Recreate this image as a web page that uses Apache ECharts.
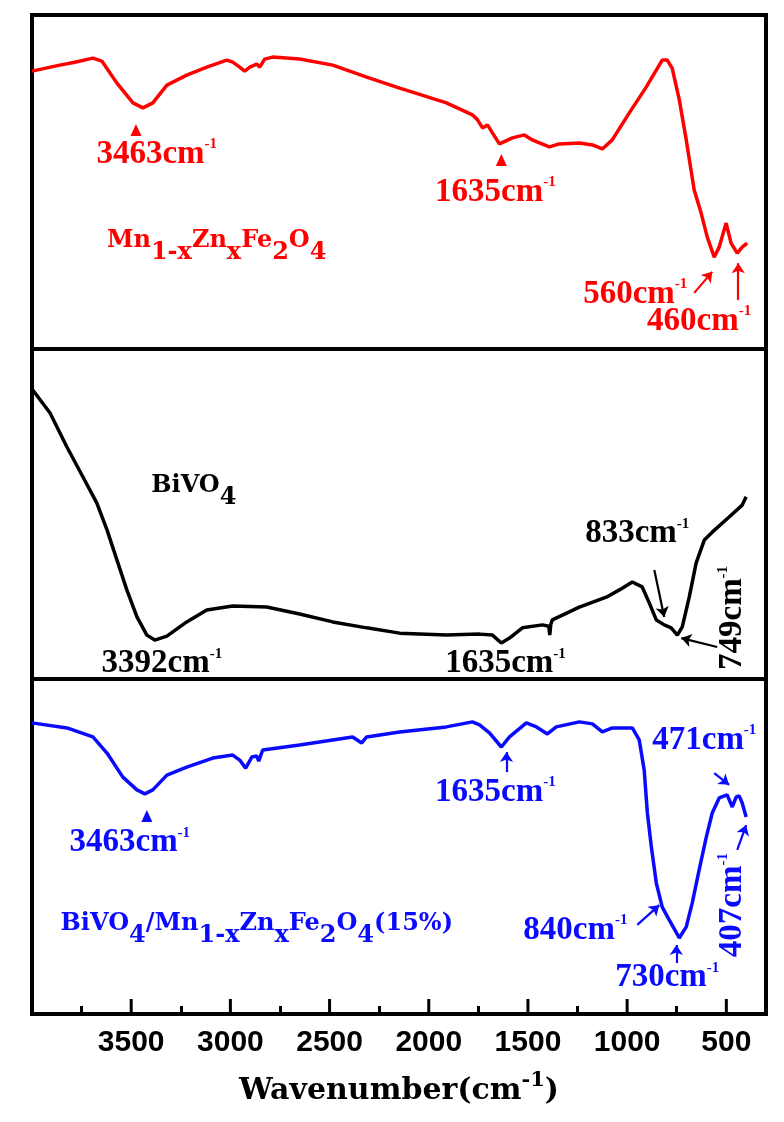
<!DOCTYPE html>
<html>
<head>
<meta charset="utf-8">
<script src="https://cdn.jsdelivr.net/npm/echarts@6/dist/echarts.min.js"></script>
<style>
  html, body { margin: 0; padding: 0; background: #fff; }
  #main { width: 784px; height: 1122px; }
</style>
</head>
<body>
<div id="main"></div>
<script>
// FTIR spectra (transmittance in arbitrary units, 0-100 per panel)
var redWave = [4000, 3860, 3790, 3693, 3648, 3572, 3491, 3441, 3391, 3320, 3220, 3119, 3018, 2988, 2953, 2928, 2902, 2867, 2852, 2827, 2787, 2651, 2484, 2313, 2147, 2082, 1911, 1780, 1754, 1729, 1704, 1679, 1644, 1578, 1518, 1478, 1442, 1392, 1342, 1241, 1175, 1125, 1075, 989, 904, 823, 798, 773, 737, 702, 662, 627, 596, 561, 536, 501, 476, 445, 420, 395];
var redT = [83.2, 85.0, 85.8, 87.1, 86.2, 79.6, 73.7, 72.2, 73.7, 79.0, 82.0, 84.4, 86.5, 85.9, 84.4, 83.2, 84.4, 85.3, 84.4, 86.8, 87.4, 86.8, 85.0, 81.4, 78.1, 76.9, 73.7, 70.1, 68.6, 66.2, 67.1, 64.7, 61.4, 63.2, 64.1, 62.6, 61.7, 60.5, 61.4, 61.7, 61.1, 59.9, 62.6, 70.7, 78.4, 86.5, 86.5, 84.1, 74.6, 62.6, 47.6, 40.7, 33.5, 27.5, 30.5, 37.7, 31.7, 28.7, 30.5, 31.7];

var blackWave = [4000, 3909, 3824, 3743, 3673, 3622, 3572, 3522, 3471, 3421, 3381, 3320, 3220, 3119, 2988, 2817, 2651, 2484, 2313, 2147, 1911, 1744, 1679, 1634, 1593, 1528, 1427, 1395, 1390, 1385, 1377, 1241, 1105, 1039, 974, 924, 888, 853, 813, 778, 747, 722, 687, 652, 611, 571, 486, 420, 400];
var blackT = [87.9, 80.6, 70.3, 61.2, 53.3, 45.2, 36.1, 27.0, 18.8, 13.3, 11.8, 13.0, 17.3, 20.9, 22.1, 21.8, 19.7, 17.3, 15.5, 13.9, 13.3, 13.6, 13.3, 10.9, 12.4, 15.5, 16.4, 16.0, 13.3, 16.5, 17.9, 21.8, 24.8, 27.0, 29.4, 27.9, 23.0, 17.9, 16.4, 15.5, 13.3, 15.8, 24.8, 35.2, 42.1, 44.5, 49.1, 52.7, 55.2];

var blueWave = [4000, 3824, 3693, 3622, 3542, 3471, 3431, 3391, 3320, 3220, 3089, 2988, 2953, 2923, 2892, 2867, 2857, 2837, 2651, 2484, 2384, 2338, 2313, 2147, 1911, 1780, 1744, 1694, 1634, 1593, 1508, 1457, 1402, 1357, 1241, 1175, 1125, 1075, 974, 939, 914, 898, 878, 853, 823, 788, 737, 702, 672, 637, 601, 571, 536, 496, 470, 450, 435, 420, 400];
var blueT = [86.9, 85.4, 82.7, 77.9, 70.7, 66.9, 65.7, 66.9, 71.3, 73.7, 76.4, 77.3, 75.8, 73.4, 76.7, 77.0, 75.5, 78.8, 80.3, 81.8, 82.7, 80.9, 82.7, 84.2, 85.7, 87.2, 86.3, 83.9, 79.7, 82.7, 86.9, 85.7, 83.6, 85.7, 87.2, 86.6, 84.2, 85.4, 85.4, 81.8, 72.8, 60.0, 49.9, 39.1, 31.9, 28.1, 22.7, 26.0, 33.1, 43.0, 52.8, 60.0, 64.5, 65.4, 61.8, 64.8, 65.1, 63.0, 58.8];

var tickLabels = [3500, 3000, 2500, 2000, 1500, 1000, 500];
var minorTicks = [3750, 3250, 2750, 2250, 1750, 1250, 750];

var RED = '#ff0000', BLACK = '#000000', BLUE = '#0a0aff';

function zip(a, b) {
  return a.map(function (v, i) { return [v, b[i]]; });
}

var richStyles = {
  n: { fontFamily: 'Liberation Serif', fontWeight: 'bold', fontSize: 33, lineHeight: 34, verticalAlign: 'bottom' },
  s: { fontFamily: 'Liberation Serif', fontWeight: 'bold', fontSize: 15, lineHeight: 10, verticalAlign: 'top' },
  m: { fontFamily: 'DejaVu Serif', fontWeight: 'bold', fontSize: 24, lineHeight: 36, verticalAlign: 'top' },
  b: { fontFamily: 'DejaVu Serif', fontWeight: 'bold', fontSize: 24, lineHeight: 12, verticalAlign: 'bottom' }
};

function cm(num) { return '{n|' + num + 'cm}{s|-1}'; }

// text annotation placed in data coordinates
function note(w, t, text, color, rot) {
  return {
    coord: [w, t], symbol: 'circle', symbolSize: 0,
    label: { show: true, position: 'inside', formatter: text, color: color, rotate: rot || 0, rich: richStyles }
  };
}
function tri(w, t, color) {
  return { coord: [w, t], symbol: 'triangle', symbolSize: [11, 12], itemStyle: { color: color }, label: { show: false } };
}
function arrow(w1, t1, w2, t2) {
  return [{ coord: [w1, t1] }, { coord: [w2, t2] }];
}

function spectrum(idx, wave, t, color, notes, arrows) {
  return {
    type: 'line', xAxisIndex: idx, yAxisIndex: idx,
    data: zip(wave, t), showSymbol: false, smooth: false,
    lineStyle: { color: color, width: 3.5 }, itemStyle: { color: color },
    markPoint: { silent: true, data: notes },
    markLine: {
      silent: true, symbol: ['none', 'arrow'], symbolSize: 10,
      lineStyle: { color: color, width: 2.2, type: 'solid' },
      label: { show: false }, data: arrows
    }
  };
}

var chart = echarts.init(document.getElementById('main'));

var grids = [
  { left: 32, right: 18, top: 15, height: 334 },
  { left: 32, right: 18, top: 349, height: 330 },
  { left: 32, right: 18, top: 679, height: 335 }
].map(function (g) {
  return Object.assign(g, { show: true, borderColor: '#000', borderWidth: 4, backgroundColor: 'transparent' });
});

function plainX(i) {
  return {
    type: 'value', gridIndex: i, min: 300, max: 4000, inverse: true, position: 'bottom',
    axisLine: { show: false }, axisTick: { show: false }, axisLabel: { show: false }, splitLine: { show: false }
  };
}
// bottom axis: labels + short minor ticks; the long major ticks come from a custom series
var xAxes = [plainX(0), plainX(1), {
  type: 'value', gridIndex: 2, min: 300, max: 4000, inverse: true, position: 'bottom',
  axisLine: { show: false },
  axisTick: { show: true, inside: true, length: 8, customValues: minorTicks.slice(), lineStyle: { color: '#000', width: 3 } },
  axisLabel: {
    show: true, customValues: tickLabels.slice(), margin: 14,
    formatter: function (v) { return String(v); },
    fontFamily: 'Liberation Sans', fontWeight: 'bold', fontSize: 30, color: '#000'
  },
  splitLine: { show: false },
  name: '{t|Wavenumber(cm}{p|-1}{t|)}', nameLocation: 'middle', nameGap: 56,
  nameTextStyle: {
    rich: {
      t: { fontFamily: 'DejaVu Serif', fontWeight: 'bold', fontSize: 30, lineHeight: 36, verticalAlign: 'bottom', color: '#000' },
      p: { fontFamily: 'DejaVu Serif', fontWeight: 'bold', fontSize: 21, lineHeight: 12, verticalAlign: 'top', color: '#000' }
    }
  }
}];

var yAxes = [0, 1, 2].map(function (i) {
  return { type: 'value', gridIndex: i, min: 0, max: 100, show: false };
});

var option = {
  animation: false,
  backgroundColor: '#fff',
  grid: grids,
  xAxis: xAxes,
  yAxis: yAxes,
  series: [
    spectrum(0, redWave, redT, RED, [
      tri(3476, 65.6, RED),
      note(3371, 58.4, cm(3463), RED),
      tri(1634, 56.6, RED),
      note(1664, 47.0, cm(1635), RED),
      note(3069, 30.5, '{m|Mn}{b|1-x}{m|Zn}{b|x}{m|Fe}{b|2}{m|O}{b|4}', RED),
      note(959, 16.5, cm(560), RED),
      note(637, 8.4, cm(460), RED)
    ], [
      arrow(662, 16.8, 571, 23.1),
      arrow(440, 14.7, 440, 25.7)
    ]),
    spectrum(1, blackWave, blackT, BLACK, [
      note(3184, 56.7, '{m|BiVO}{b|4}', BLACK),
      note(3345, 4.8, cm(3392), BLACK),
      note(1613, 4.8, cm(1635), BLACK),
      note(949, 44.2, cm(833), BLACK),
      note(470, 18.5, cm(749), BLACK, 90)
    ], [
      arrow(863, 33.0, 813, 18.8),
      arrow(546, 9.7, 727, 12.4)
    ]),
    spectrum(2, blueWave, blueT, BLUE, [
      tri(3421, 59.1, BLUE),
      note(3507, 51.3, cm(3463), BLUE),
      note(1664, 66.3, cm(1635), BLUE),
      note(611, 81.8, cm(471), BLUE),
      note(470, 32.5, cm(407), BLUE, 90),
      note(1261, 25.1, cm(840), BLUE),
      note(798, 11.0, cm(730), BLUE),
      note(2867, 25.1, '{m|BiVO}{b|4}{m|/Mn}{b|1-x}{m|Zn}{b|x}{m|Fe}{b|2}{m|O}{b|4}{m|(15%)}', BLUE)
    ], [
      arrow(1608, 72.2, 1608, 78.2),
      arrow(561, 71.9, 486, 68.4),
      arrow(445, 49.0, 400, 56.4),
      arrow(949, 26.6, 838, 32.5),
      arrow(752, 15.2, 752, 20.6)
    ]),
    {
      // long (major) ticks of the bottom axis, one per tick label
      type: 'custom', xAxisIndex: 2, yAxisIndex: 2, z: 50, silent: true,
      data: tickLabels.map(function (v) { return [v, 0]; }),
      renderItem: function (params, api) {
        var p = api.coord([api.value(0), 0]);
        return {
          type: 'line',
          shape: { x1: p[0], y1: p[1], x2: p[0], y2: p[1] - 15 },
          style: { stroke: '#000', lineWidth: 3 }
        };
      }
    }
  ]
};

option && chart.setOption(option);
</script>
</body>
</html>
